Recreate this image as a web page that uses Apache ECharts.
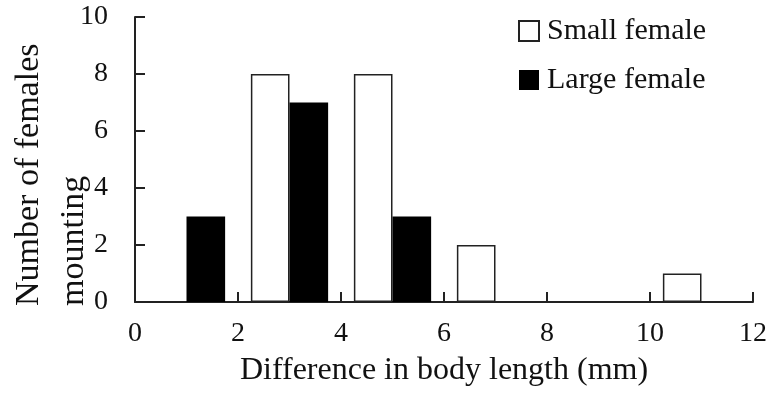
<!DOCTYPE html>
<html>
<head>
<meta charset="utf-8">
<script src="https://cdn.jsdelivr.net/npm/echarts@6/dist/echarts.min.js"></script>
<style>
  html, body { margin: 0; padding: 0; background: #fff; }
  #mounting-chart { width: 775px; height: 394px; }
</style>
</head>
<body>
<div id="mounting-chart"></div>
<script>
// size-difference bins, 2 mm wide (0-2, 2-4, ... 10-12)
const bins = ['0-2', '2-4', '4-6', '6-8', '8-10', '10-12']
const smallFemale = [0, 8, 8, 2, 0, 1]
const largeFemale = [3, 7, 3, 0, 0, 0]
const xTicks = [0, 2, 4, 6, 8, 10, 12]
const yTicks = [0, 2, 4, 6, 8, 10]

const serif = 'Liberation Serif'
const ink = '#111'

const chartObj = echarts.init(document.getElementById('mounting-chart'))

const chartOption = {
  animation: false,
  backgroundColor: '#fff',
  grid: {
    left: 135,
    right: 22,
    top: 17,
    bottom: 92
  },
  legend: {
    orient: 'vertical',
    left: 513,
    top: 11,
    itemWidth: 20,
    itemHeight: 20,
    itemGap: 19,
    icon: 'rect',
    textStyle: { fontFamily: serif, fontSize: 30, color: ink, padding: [0, 0, 0, 3] },
    data: ['Small female', 'Large female']
  },
  xAxis: [
    {
      // visible numeric axis, only for ticks and labels
      type: 'value',
      min: xTicks[0],
      max: xTicks[xTicks.length - 1],
      interval: 2,
      name: 'Difference in body length (mm)',
      nameLocation: 'middle',
      nameGap: 53,
      nameTextStyle: { fontFamily: serif, fontSize: 32, color: ink },
      axisLine: { lineStyle: { color: '#222', width: 2 } },
      axisTick: { inside: true, length: 10, lineStyle: { color: '#222', width: 2 } },
      axisLabel: { fontFamily: serif, fontSize: 28, color: ink, margin: 18 },
      splitLine: { show: false }
    },
    {
      // hidden category axis that places the bars in each bin
      type: 'category',
      data: bins,
      show: false,
      boundaryGap: true
    }
  ],
  yAxis: {
    type: 'value',
    min: yTicks[0],
    max: yTicks[yTicks.length - 1],
    interval: 2,
    axisLine: { show: true, lineStyle: { color: '#222', width: 2 } },
    axisTick: { show: true, inside: true, length: 10, lineStyle: { color: '#222', width: 2 } },
    axisLabel: { fontFamily: serif, fontSize: 28, color: ink, margin: 27 },
    splitLine: { show: false }
  },
  series: [
    {
      name: 'Small female',
      type: 'bar',
      xAxisIndex: 1,
      barWidth: '37.5%',
      barGap: '0%',
      itemStyle: { color: '#fff', borderColor: '#222', borderWidth: 1.5 },
      data: smallFemale
    },
    {
      name: 'Large female',
      type: 'bar',
      xAxisIndex: 1,
      barWidth: '37.5%',
      barGap: '0%',
      itemStyle: { color: '#000' },
      data: largeFemale
    }
  ],
  graphic: [
    {
      type: 'text',
      x: 7,
      y: 306,
      rotation: Math.PI / 2,
      style: {
        text: 'Number of females\nmounting',
        fontFamily: serif,
        fontSize: 34,
        lineHeight: 45,
        fill: ink,
        align: 'left',
        verticalAlign: 'top'
      }
    }
  ]
}

chartObj.setOption(chartOption, true)
</script>
</body>
</html>
